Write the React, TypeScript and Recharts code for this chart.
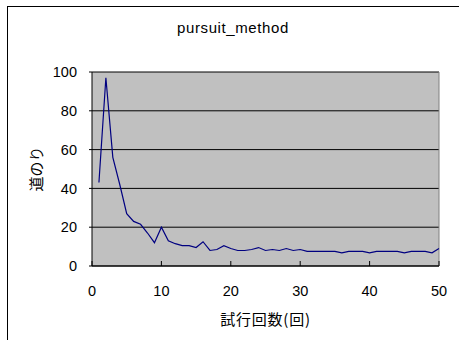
import { LineChart, Line, XAxis, YAxis, CartesianGrid, ReferenceLine, Label } from 'recharts'

const trials = [
  1, 2, 3, 4, 5, 6, 7, 8, 9, 10,
  11, 12, 13, 14, 15, 16, 17, 18, 19, 20,
  21, 22, 23, 24, 25, 26, 27, 28, 29, 30,
  31, 32, 33, 34, 35, 36, 37, 38, 39, 40,
  41, 42, 43, 44, 45, 46, 47, 48, 49, 50,
]

const distance = [
  43, 97, 56, 42, 27, 23, 21.5, 17, 12, 20,
  13, 11.5, 10.5, 10.5, 9.5, 12.5, 8, 8.5, 10.5, 9,
  8, 8, 8.5, 9.5, 8, 8.5, 8, 9, 8, 8.5,
  7.5, 7.5, 7.5, 7.5, 7.5, 6.8, 7.5, 7.5, 7.5, 6.8,
  7.5, 7.5, 7.5, 7.5, 6.8, 7.5, 7.5, 7.5, 6.8, 9,
]

const xTicks = [0, 10, 20, 30, 40, 50]
const yTicks = [0, 20, 40, 60, 80, 100]

const data = trials.map((t, i) => ({ trial: t, distance: distance[i] }))

const FONT = '"Liberation Sans", Arial, sans-serif'
const CJK = '"Noto Sans CJK JP", sans-serif'

// x ticks point up into the plot, labels sit below the axis
function XTick({ x, y, payload }: any) {
  return (
    <g>
      <line x1={x} x2={x} y1={y - 5} y2={y} stroke="#000" />
      <text x={x} y={y + 30} textAnchor="middle" fontSize={14.5} fontFamily={FONT} fill="#000">
        {payload.value}
      </text>
    </g>
  )
}

function YTitle({ viewBox }: any) {
  const cx = viewBox.x + 35
  const cy = viewBox.y + viewBox.height / 2
  return (
    <text
      transform={`translate(${cx},${cy}) rotate(-90)`}
      textAnchor="middle"
      dominantBaseline="central"
      fontSize={15}
      fontFamily={CJK}
      fill="#000"
    >
      道のり
    </text>
  )
}

export default function App() {
  return (
    <div
      style={{
        position: 'absolute',
        left: 0,
        top: 0,
        width: 459,
        height: 340,
        overflow: 'hidden',
        background: '#fff',
      }}
    >
      <div
        style={{
          position: 'absolute',
          left: 7,
          top: 6,
          width: 470,
          height: 360,
          border: '1px solid #000',
        }}
      />
      <div
        style={{
          position: 'absolute',
          left: 0,
          top: 19,
          width: 466,
          textAlign: 'center',
          fontFamily: FONT,
          fontSize: 15,
          lineHeight: '18px',
          letterSpacing: 0.6,
        }}
      >
        pursuit_method
      </div>
      <div style={{ position: 'absolute', left: 0, top: 0 }}>
        <LineChart
          width={459}
          height={340}
          data={data}
          margin={{ top: 72, right: 20, left: 0, bottom: 0 }}
        >
          <CartesianGrid vertical={false} stroke="#000" fill="#c0c0c0" fillOpacity={1} />
          <XAxis
            dataKey="trial"
            type="number"
            domain={[0, 50]}
            ticks={xTicks}
            height={74}
            tickSize={0}
            tickMargin={0}
            tickLine={false}
            axisLine={{ stroke: '#000' }}
            tick={<XTick />}
            interval={0}
          >
            <Label
              value="試行回数(回)"
              position="insideBottom"
              offset={15}
              style={{ fontSize: 15, fontFamily: CJK, fill: '#000', letterSpacing: 0.8 }}
            />
          </XAxis>
          <YAxis
            type="number"
            domain={[0, 100]}
            ticks={yTicks}
            width={92}
            tickSize={3}
            tickMargin={12}
            tickLine={{ stroke: '#000' }}
            axisLine={{ stroke: '#000' }}
            tick={{ fontSize: 14.5, fontFamily: FONT, fill: '#000' }}
            interval={0}
          >
            <Label content={<YTitle />} />
          </YAxis>
          <ReferenceLine x={50} stroke="#808080" />
          <Line
            type="linear"
            dataKey="distance"
            stroke="#000080"
            strokeWidth={1.2}
            dot={false}
            isAnimationActive={false}
          />
        </LineChart>
      </div>
    </div>
  )
}
